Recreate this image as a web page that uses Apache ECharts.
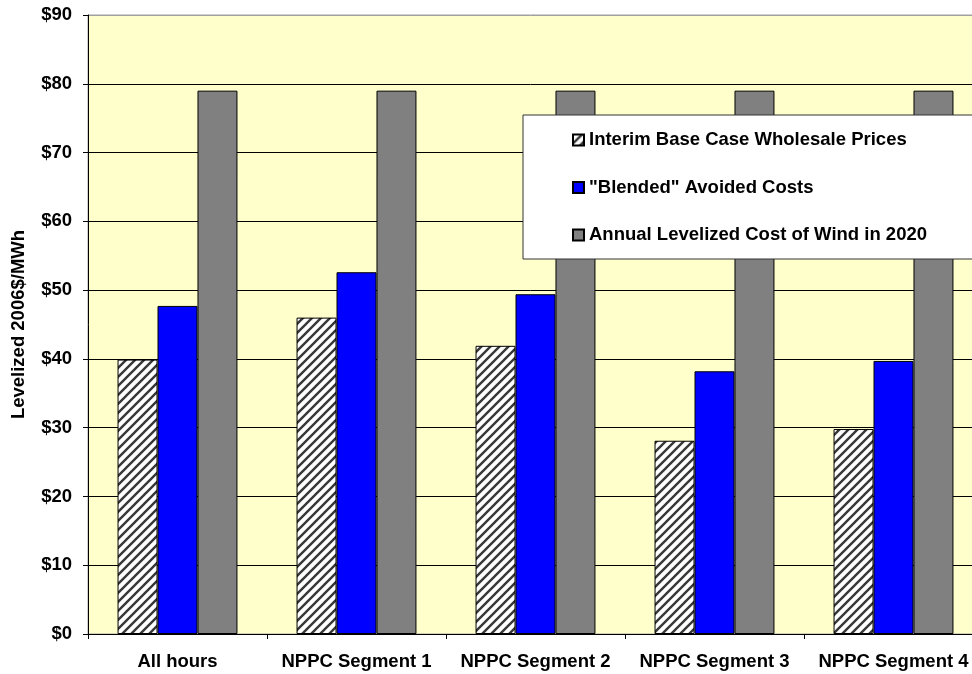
<!DOCTYPE html>
<html>
<head>
<meta charset="utf-8">
<script src="https://cdn.jsdelivr.net/npm/echarts@6/dist/echarts.min.js"></script>
<style>
  html, body { margin: 0; padding: 0; background: #fff; }
  #chart { width: 972px; height: 674px; }
</style>
</head>
<body>
<div id="chart"></div>
<script>
// Levelized costs by NPPC time segment, 2006$/MWh
const categories = ['All hours', 'NPPC Segment 1', 'NPPC Segment 2', 'NPPC Segment 3', 'NPPC Segment 4'];
const seriesNames = ['Interim Base Case Wholesale Prices', '"Blended" Avoided Costs', 'Annual Levelized Cost of Wind in 2020'];
const wholesalePrices = [39.9, 46.0, 41.9, 28.1, 29.8];
const blendedAvoided = [47.7, 52.6, 49.4, 38.2, 39.7];
const windCost = [79, 79, 79, 79, 79];
const yTicks = [0, 10, 20, 30, 40, 50, 60, 70, 80, 90];

// Diagonal hatch fill for the wholesale price bars
function makeHatch() {
  const n = 9;
  const c = document.createElement('canvas');
  c.width = n; c.height = n;
  const g = c.getContext('2d');
  g.fillStyle = '#ffffff';
  g.fillRect(0, 0, n, n);
  g.strokeStyle = '#383838';
  g.lineWidth = 2.4;
  g.beginPath();
  for (let k = -1; k <= 1; k++) {
    g.moveTo(-2 + k * n, n + 2); g.lineTo(n + 2 + k * n, -2);
  }
  g.stroke();
  return c;
}
const hatch = { image: makeHatch(), repeat: 'repeat' };

const font = 'Liberation Sans, Arial, sans-serif';
const fs = 18.5;

const chart = echarts.init(document.getElementById('chart'), null, { renderer: 'canvas' });

const splitColors = yTicks.map((v, i) => i === yTicks.length - 1 ? '#a0a0a0' : '#000000');

chart.setOption({
  animation: false,
  backgroundColor: '#ffffff',
  grid: {
    left: 88, top: 15, right: -11, bottom: 40,
    outerBoundsMode: 'none',
    containLabel: false,
    show: true, backgroundColor: '#FFFFCC', borderColor: '#a0a0a0', borderWidth: 1
  },
  legend: {
    orient: 'vertical',
    left: 523, top: 115,
    backgroundColor: '#ffffff',
    borderColor: '#333333', borderWidth: 1,
    padding: [15, 120, 14, 49],
    itemGap: 27.5,
    itemWidth: 11, itemHeight: 11,
    icon: 'rect',
    textStyle: { fontFamily: font, fontWeight: 'bold', fontSize: fs, color: '#000', lineHeight: 20 },
    data: seriesNames
  },
  xAxis: {
    type: 'category',
    data: categories,
    axisLine: { lineStyle: { color: '#000', width: 1 } },
    axisTick: { show: true, length: 5, lineStyle: { color: '#000' } },
    axisLabel: { fontFamily: font, fontWeight: 'bold', fontSize: fs, color: '#000', margin: 18, interval: 0 },
    splitLine: { show: false }
  },
  yAxis: {
    type: 'value',
    min: 0, max: 90, interval: 10,
    name: 'Levelized 2006$/MWh',
    nameLocation: 'middle',
    nameRotate: 90,
    nameGap: 60,
    nameTextStyle: { fontFamily: font, fontWeight: 'bold', fontSize: fs, color: '#000' },
    axisLine: { show: true, lineStyle: { color: '#000', width: 1 } },
    axisTick: { show: true, length: 5, lineStyle: { color: '#000' } },
    axisLabel: { fontFamily: font, fontWeight: 'bold', fontSize: fs, color: '#000', margin: 16,
      formatter: v => '$' + v },
    splitLine: { show: true, lineStyle: { color: splitColors, width: 1 } }
  },
  series: [
    {
      name: seriesNames[0], type: 'bar', data: wholesalePrices,
      barGap: '0%', barCategoryGap: '33%',
      itemStyle: { color: hatch, borderColor: '#000', borderWidth: 1 }
    },
    {
      name: seriesNames[1], type: 'bar', data: blendedAvoided,
      barGap: '0%', barCategoryGap: '33%',
      itemStyle: { color: '#0000FF', borderColor: '#000', borderWidth: 1 }
    },
    {
      name: seriesNames[2], type: 'bar', data: windCost,
      barGap: '0%', barCategoryGap: '33%',
      itemStyle: { color: '#808080', borderColor: '#000', borderWidth: 1 }
    }
  ]
});
</script>
</body>
</html>
